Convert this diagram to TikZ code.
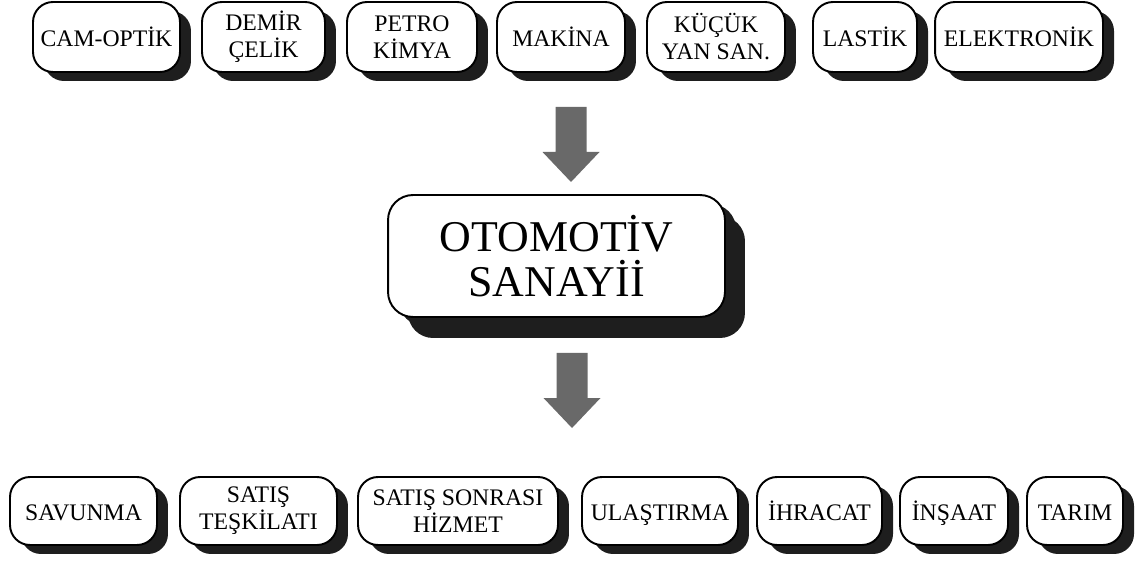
\documentclass[tikz,border=0pt]{standalone}
\usepackage{fontspec}
\setmainfont{Liberation Serif}
\usepackage{tikz}
\usetikzlibrary{shadows,calc}
\definecolor{golge}{RGB}{30,30,30}
\definecolor{okgri}{RGB}{105,105,105}
\tikzset{
  kutu/.style={draw=black, line width=1.1pt, fill=white, rounded corners=0.4cm,
    align=center, inner sep=0pt, minimum height=1.4cm,
    font=\fontsize{13.5}{15.4}\selectfont,
    drop shadow={shadow xshift=0.22cm, shadow yshift=-0.18cm, fill=golge, opacity=1}},
  altkutu/.style={kutu, minimum height=1.36cm},
  tek/.style={text height=11.2pt, text depth=0pt},
  anakutu/.style={kutu, rounded corners=0.5cm, minimum width=6.74cm, minimum height=2.44cm,
    font=\fontsize{25}{26}\selectfont,
    drop shadow={shadow xshift=0.4cm, shadow yshift=-0.42cm, fill=golge, opacity=1}},
}

\begin{document}
\begin{tikzpicture}[x=0.02cm,y=-0.02cm]
	\useasboundingbox (0,0) rectangle (1141,563);
	\newcommand \okgovde{15.5}
	\newcommand \okbas{28.5}
	\newcommand \okboy{75}
	\newcommand \okucboy{30}

%% Girdi sanayileri
	\node[kutu, tek, minimum width=2.94cm] (camoptik) at (106.5,37) {CAM-OPTİK};
	\node[kutu, minimum width=2.46cm] (demir) at (263.5,37) {DEMİR\\ÇELİK};
	\node[kutu, minimum width=2.6cm] (petro) at (412,37) {PETRO\\KİMYA};
	\node[kutu, tek, minimum width=2.56cm] (makina) at (561,37) {MAKİNA};
	\node[kutu, minimum width=2.76cm] (kucuk) at (716,37) {KÜÇÜK\\YAN SAN.};
	\node[kutu, tek, minimum width=2.08cm] (lastik) at (865,37) {LASTİK};
	\node[kutu, tek, minimum width=3.36cm] (elektronik) at (1019,37) {ELEKTRONİK};

%% Otomotiv
	\node[anakutu] (otomotiv) at (556.5,256) {OTOMOTİV\\SANAYİİ};

%% Kullanan sektorler
	\node[altkutu, tek, minimum width=2.94cm] (savunma) at (83.5,511) {SAVUNMA};
	\node[altkutu, minimum width=3.14cm] (satis) at (258.5,511) {SATIŞ\\TEŞKİLATI};
	\node[altkutu, minimum width=4cm] (hizmet) at (458,511) {SATIŞ SONRASI\\HİZMET};
	\node[altkutu, tek, minimum width=3.12cm] (ulastirma) at (660,511) {ULAŞTIRMA};
	\node[altkutu, tek, minimum width=2.5cm] (ihracat) at (819.5,511) {İHRACAT};
	\node[altkutu, tek, minimum width=2.16cm] (insaat) at (954,511) {İNŞAAT};
	\node[altkutu, tek, minimum width=1.92cm] (tarim) at (1075,511) {TARIM};

%% Oklar
	\coordinate (ok1) at (571,107);
	\coordinate (ok2) at (572,353);
\foreach \o in {ok1,ok2}
{
	\fill[okgri] ($(\o)+(-\okgovde,0)$) -- ($(\o)+(\okgovde,0)$) -- ($(\o)+(\okgovde,\okboy-\okucboy)$) -- ($(\o)+(\okbas,\okboy-\okucboy)$) -- ($(\o)+(0,\okboy)$) -- ($(\o)+(-\okbas,\okboy-\okucboy)$) -- ($(\o)+(-\okgovde,\okboy-\okucboy)$) -- cycle;
}
\end{tikzpicture}
\end{document}
